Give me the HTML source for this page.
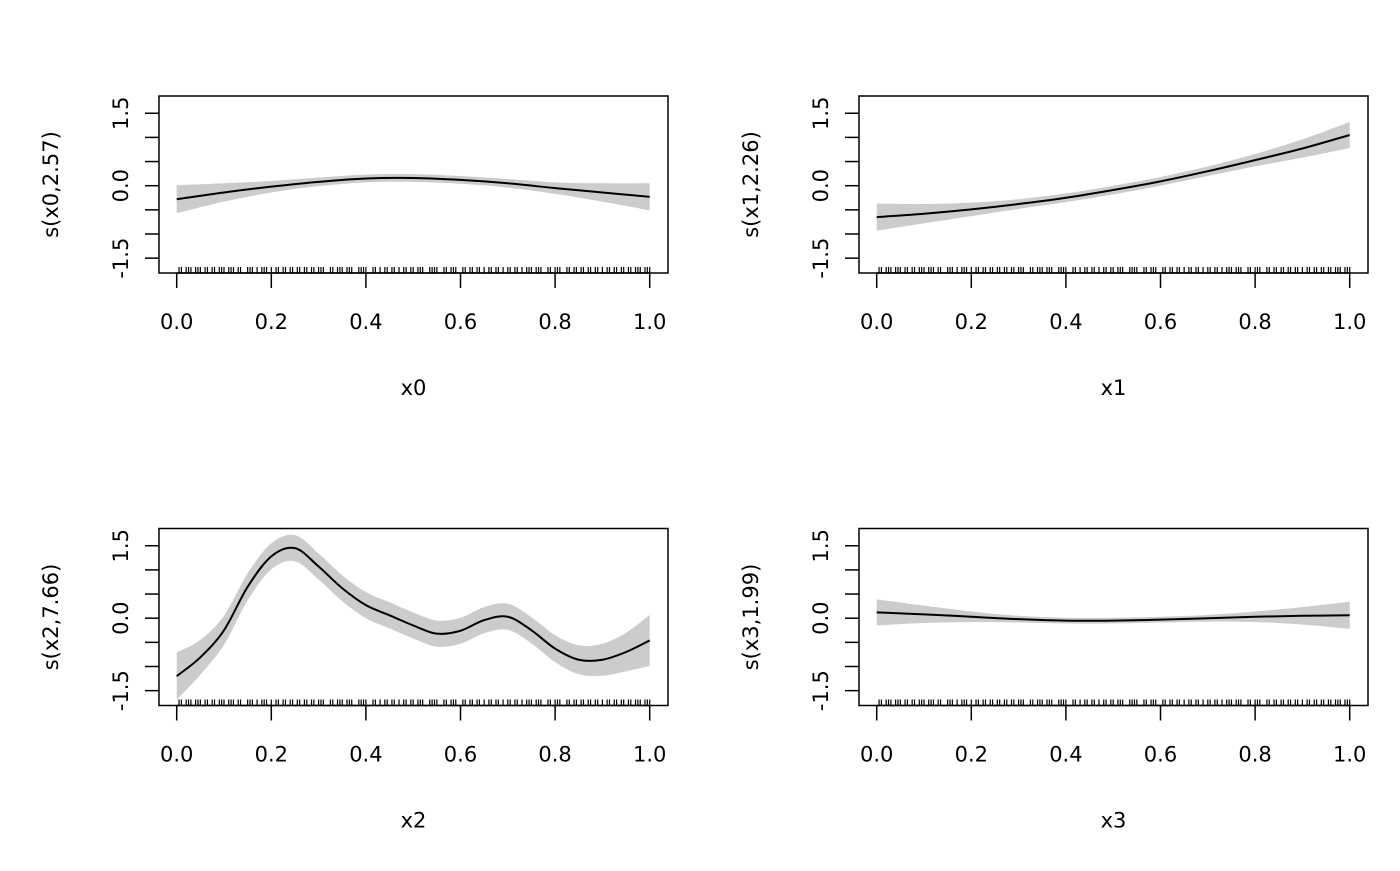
<!DOCTYPE html>
<html><head><meta charset="utf-8"><style>
body{margin:0;background:#fff}
svg text{font-family:"DejaVu Sans","Liberation Sans",sans-serif;font-size:21px;fill:#000}
</style></head><body>
<svg id="c" width="1400" height="866"></svg>
<script>
const xGrid=[0,0.1,0.2,0.3,0.4,0.5,0.6,0.7,0.8,0.9,1.0];
const fit0=[-0.28,-0.14,-0.02,0.08,0.15,0.16,0.12,0.05,-0.05,-0.14,-0.23];
const se0=[0.29,0.19,0.12,0.09,0.08,0.08,0.08,0.09,0.12,0.19,0.28];
const fit1=[-0.65,-0.58,-0.49,-0.38,-0.25,-0.09,0.09,0.3,0.53,0.77,1.05];
const se1=[0.28,0.2,0.14,0.1,0.09,0.09,0.09,0.1,0.13,0.19,0.27];
const xGrid2=[0,0.05,0.1,0.15,0.2,0.25,0.3,0.35,0.4,0.45,0.5,0.55,0.6,0.65,0.7,0.75,0.8,0.85,0.9,0.95,1.0];
const fit2=[-1.2,-0.81,-0.25,0.65,1.28,1.45,1.07,0.62,0.27,0.06,-0.15,-0.32,-0.26,-0.04,0.03,-0.25,-0.63,-0.86,-0.86,-0.70,-0.46];
const se2=[0.49,0.36,0.3,0.28,0.27,0.27,0.27,0.27,0.27,0.27,0.27,0.27,0.27,0.27,0.27,0.27,0.28,0.3,0.33,0.4,0.53];
const fit3=[0.12,0.08,0.03,-0.02,-0.05,-0.05,-0.03,0.0,0.03,0.05,0.06];
const se3=[0.27,0.18,0.11,0.07,0.06,0.06,0.06,0.07,0.11,0.18,0.28];
const yTicks=[-1.5,-1,-0.5,0,0.5,1,1.5];
const yTickLabels=["-1.5","","","0.0","","","1.5"];
const xTicks=[0,0.2,0.4,0.6,0.8,1.0];
const xTickLabels=["0.0","0.2","0.4","0.6","0.8","1.0"];
const rugX=[0.005,0.01,0.02,0.025,0.03,0.04,0.045,0.05,0.06,0.065,0.075,0.08,0.09,0.095,0.1,0.11,0.115,0.12,0.13,0.135,0.15,0.155,0.16,0.17,0.18,0.185,0.19,0.2,0.21,0.215,0.225,0.23,0.24,0.245,0.255,0.26,0.27,0.275,0.285,0.29,0.3,0.305,0.31,0.325,0.33,0.34,0.345,0.35,0.36,0.365,0.37,0.385,0.39,0.395,0.4,0.415,0.42,0.43,0.44,0.445,0.455,0.46,0.47,0.48,0.485,0.495,0.5,0.51,0.515,0.52,0.535,0.54,0.545,0.55,0.565,0.57,0.58,0.585,0.59,0.605,0.61,0.62,0.625,0.635,0.64,0.65,0.66,0.665,0.675,0.68,0.69,0.7,0.705,0.715,0.72,0.73,0.74,0.745,0.75,0.76,0.765,0.77,0.785,0.79,0.8,0.805,0.81,0.825,0.83,0.84,0.845,0.855,0.86,0.87,0.875,0.885,0.89,0.9,0.91,0.915,0.925,0.93,0.94,0.945,0.955,0.96,0.97,0.975,0.98,0.99,0.995,1.0];
const panels=[
 {xs:xGrid,fit:fit0,se:se0,xl:"x0",yl:"s(x0,2.57)",dx:0,dy:0},
 {xs:xGrid,fit:fit1,se:se1,xl:"x1",yl:"s(x1,2.26)",dx:700,dy:0},
 {xs:xGrid2,fit:fit2,se:se2,xl:"x2",yl:"s(x2,7.66)",dx:0,dy:432.5},
 {xs:xGrid,fit:fit3,se:se3,xl:"x3",yl:"s(x3,1.99)",dx:700,dy:432.5}
];
const NS="http://www.w3.org/2000/svg";
const svg=document.getElementById('c');
function mk(t,a,p){const e=document.createElementNS(NS,t);for(const k in a)e.setAttribute(k,a[k]);(p||svg).appendChild(e);return e;}
function smooth(pts){let d="M"+pts[0][0]+","+pts[0][1];for(let i=0;i<pts.length-1;i++){const p0=pts[Math.max(0,i-1)],p1=pts[i],p2=pts[i+1],p3=pts[Math.min(pts.length-1,i+2)];
 d+=" C"+(p1[0]+(p2[0]-p0[0])/6)+","+(p1[1]+(p2[1]-p0[1])/6)+" "+(p2[0]-(p3[0]-p1[0])/6)+","+(p2[1]-(p3[1]-p1[1])/6)+" "+p2[0]+","+p2[1];}return d;}
function smoothBody(pts){return smooth(pts).replace(/^M/,"L");}
panels.forEach((P,pi)=>{
 const g=mk('g',{});
 
 
 const L=159+P.dx,R=668+P.dx,T=96+P.dy,B=273+P.dy;
 const sx=v=>176.7+P.dx+v*473, sy=v=>185.7+P.dy-v*48.3;
 const up=P.xs.map((x,i)=>[sx(x),sy(P.fit[i]+P.se[i])]);
 const lo=P.xs.map((x,i)=>[sx(x),sy(P.fit[i]-P.se[i])]).reverse();
 const band=mk('path',{d:smooth(up)+" "+smoothBody(lo)+" Z",fill:"#cccccc"},g);
 
 
 const line=mk('path',{d:smooth(P.xs.map((x,i)=>[sx(x),sy(P.fit[i])])),fill:"none",stroke:"#000","stroke-width":2},g);
 
 
 let rd="";rugX.forEach(v=>{rd+="M"+sx(v)+","+(B-6)+"V"+B;});
 const rug=mk('path',{d:rd,stroke:"#000","stroke-width":1.2},g);
 
 
 const box=mk('rect',{x:L,y:T,width:R-L,height:B-T,fill:"none",stroke:"#000","stroke-width":1.5},g);
 
 
 yTicks.forEach((v,i)=>{mk('line',{x1:L-14,x2:L,y1:sy(v),y2:sy(v),stroke:"#000","stroke-width":1.5},g);
  if(yTickLabels[i]){const t=mk('text',{x:0,y:0,transform:`translate(${L-38},${sy(v)}) rotate(-90)`,"text-anchor":"middle","dominant-baseline":"central"},g);t.textContent=yTickLabels[i];
  
  }});
 mk('line',{x1:sx(0),x2:sx(1),y1:B,y2:B,stroke:"#000","stroke-width":1.5},g);
 xTicks.forEach((v,i)=>{mk('line',{x1:sx(v),x2:sx(v),y1:B,y2:B+15,stroke:"#000","stroke-width":1.5},g);
  const t=mk('text',{x:sx(v),y:B+56,"text-anchor":"middle"},g);t.textContent=xTickLabels[i];
  
  });
 const xl=mk('text',{x:(L+R)/2,y:B+122,"text-anchor":"middle"},g);xl.textContent=P.xl;
 
 
 const yl=mk('text',{x:0,y:0,transform:`translate(${L-108},${(T+B)/2}) rotate(-90)`,"text-anchor":"middle","dominant-baseline":"central"},g);yl.textContent=P.yl;
 
 
});
</script>
</body></html>
